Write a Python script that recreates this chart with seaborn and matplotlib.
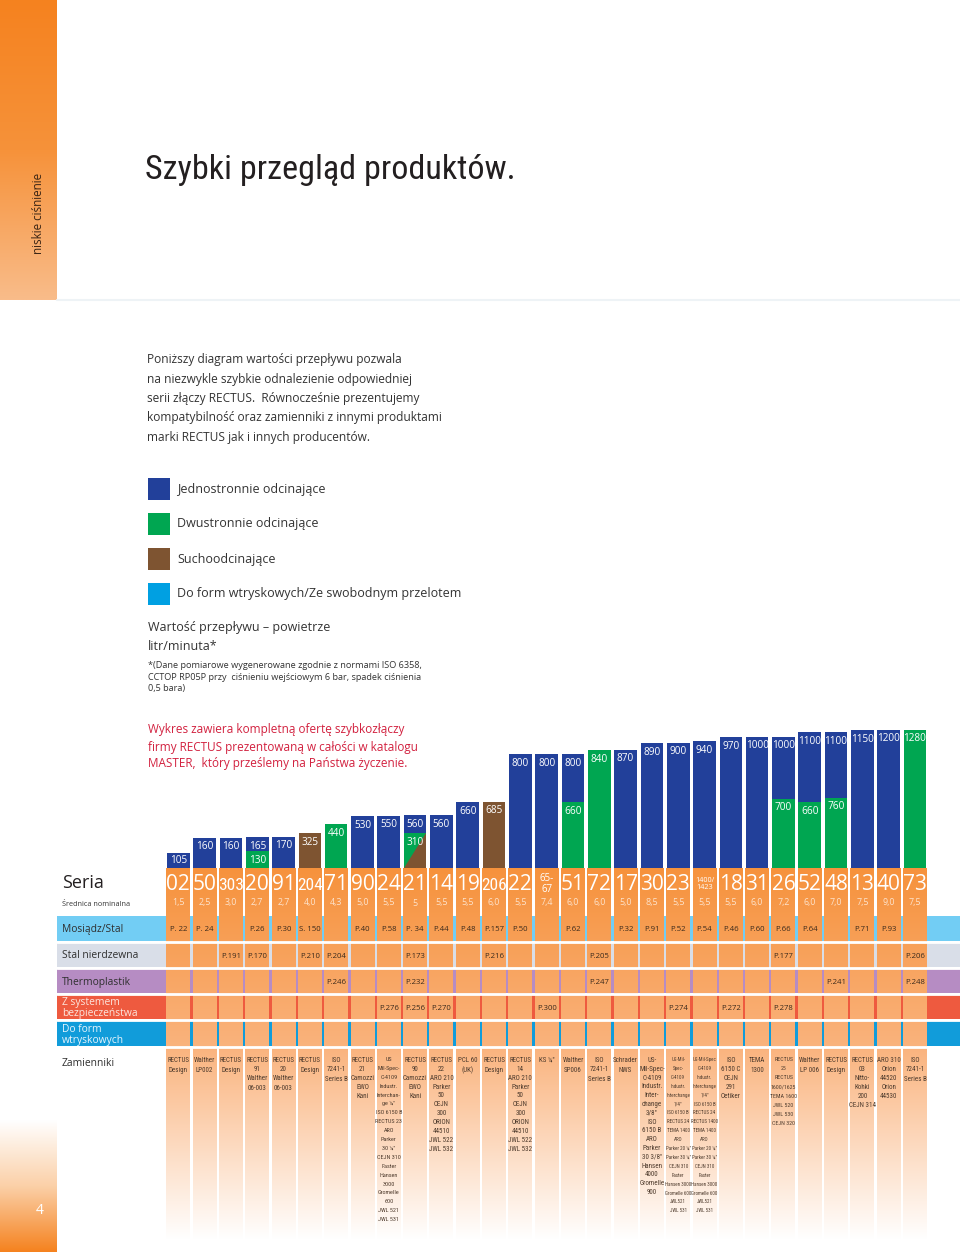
import numpy as np
import pandas as pd
import matplotlib
matplotlib.use('Agg')
import matplotlib.pyplot as plt
import seaborn as sns
from matplotlib import font_manager as fm
from matplotlib.colors import LinearSegmentedColormap
from matplotlib.patches import Rectangle, Polygon

# --- dane: serie złączy ---
serie = ['02', '50', '303', '20', '91', '204', '71', '90', '24', '21', '14', '19', '206', '22',
         '65-\n67', '51', '72', '17', '30', '23', '1400/\n1423', '18', '31', '26', '52', '48',
         '13', '40', '73']
srednice = ['1,5', '2,5', '3,0', '2,7', '2,7', '4,0', '4,3', '5,0', '5,5', '5', '5,5', '5,5', '6,0',
            '5,5', '7,4', '6,0', '6,0', '5,0', '8,5', '5,5', '5,5', '5,5', '6,0', '7,2', '6,0',
            '7,0', '7,5', '9,0', '7,5']

# wartość przepływu (litr/minuta) - słupek główny
przeplyw = [105, 160, 160, 165, 170, 325, 440, 530, 550, 560, 560, 660, 685, 800, 800, 800,
            840, 870, 890, 900, 940, 970, 1000, 1000, 1100, 1100, 1150, 1200, 1280]
typ = ['Jedno', 'Jedno', 'Jedno', 'Jedno', 'Jedno', 'Sucho', 'Dwu', 'Jedno', 'Jedno', 'Jedno',
       'Jedno', 'Jedno', 'Sucho', 'Jedno', 'Jedno', 'Jedno', 'Dwu', 'Jedno', 'Jedno', 'Jedno',
       'Jedno', 'Jedno', 'Jedno', 'Jedno', 'Jedno', 'Jedno', 'Jedno', 'Jedno', 'Dwu']

# druga wersja tej samej serii (dolna część słupka)
dolny_kol = [3, 9, 15, 23, 24, 25]
dolny_wart = [130, 310, 660, 700, 660, 760]
dolny_typ = ['Dwu', 'Sucho', 'Dwu', 'Dwu', 'Dwu', 'Dwu']

# numery stron w katalogu
mosiadz = ['P. 22', 'P. 24', '', 'P.26', 'P.30', 'S. 150', '', 'P.40', 'P.58', 'P. 34', 'P.44',
           'P.48', 'P.157', 'P.50', '', 'P.62', '', 'P.32', 'P.91', 'P.52', 'P.54', 'P.46', 'P.60',
           'P.66', 'P.64', '', 'P.71', 'P.93', '']
nierdzewna = ['', '', 'P.191', 'P.170', '', 'P.210', 'P.204', '', '', 'P.173', '', '', 'P.216',
              '', '', '', 'P.205', '', '', '', '', '', '', 'P.177', '', '', '', '', 'P.206']
termo = ['', '', '', '', '', '', 'P.246', '', '', 'P.232', '', '', '', '', '', '', 'P.247', '',
         '', '', '', '', '', '', '', 'P.241', '', '', 'P.248']
bezp = ['', '', '', '', '', '', '', '', 'P.276', 'P.256', 'P.270', '', '', '', 'P.300', '', '',
        '', '', 'P.274', '', 'P.272', '', 'P.278', '', '', '', '', '']

zamienniki = [
    'RECTUS\nDesign', 'Walther\nLP002', 'RECTUS\nDesign', 'RECTUS\n91\nWalther\n06-003',
    'RECTUS\n20\nWalther\n06-003', 'RECTUS\nDesign', 'ISO\n7241-1\nSeries B',
    'RECTUS\n21\nCamozzi\nEWO\nKani',
    'US\nMil-Spec-\nC-4109\nIndustr.\nInterchan-\nge ¼"\nISO 6150 B\nRECTUS 23\nARO\nParker\n30 ¼"\n'
    'CEJN 310\nFaster\nHansen\n3000\nGromelle\n600\nJWL 521\nJWL 531',
    'RECTUS\n90\nCamozzi\nEWO\nKani',
    'RECTUS\n22\nARO 210\nParker\n50\nCEJN\n300\nORION\n44510\nJWL 522\nJWL 532',
    'PCL 60\n(UK)', 'RECTUS\nDesign',
    'RECTUS\n14\nARO 210\nParker\n50\nCEJN\n300\nORION\n44510\nJWL 522\nJWL 532',
    'KS ¼"', 'Walther\nSP006', 'ISO\n7241-1\nSeries B', 'Schrader\nNWS',
    'US-\nMil-Spec-\nC-4109\nIndustr.\nInter-\nchange\n3/8"\nISO\n6150 B\nARO\nParker\n30 3/8"\n'
    'Hansen\n4000\nGromelle\n900',
    'US-Mil-\nSpec-\nC-4109\nIndustr.\nInterchange\n1/4"\nISO 6150 B\nRECTUS 24\nTEMA 1400\nARO\n'
    'Parker 20 ¼"\nParker 30 ¼"\nCEJN 310\nFaster\nHansen 3000\nGromelle 600\nJWL521\nJWL 531',
    'US-Mil-Spec\nC-4109\nIndustr.\nInterchange\n1/4"\nISO 6150 B\nRECTUS 24\nRECTUS 1400\n'
    'TEMA 1400\nARO\nParker 20 ¼"\nParker 30 ¼"\nCEJN 310\nFaster\nHansen 3000\nGromelle 600\n'
    'JWL521\nJWL 531',
    'ISO\n6150 C\nCEJN\n291\nOetiker', 'TEMA\n1300',
    'RECTUS\n25\nRECTUS\n1600/1625\nTEMA 1600\nJWL 520\nJWL 530\nCEJN 320',
    'Walther\nLP 006', 'RECTUS\nDesign', 'RECTUS\n03\nNitto-\nKohki\n200\nCEJN 314',
    'ARO 310\nOrion\n44520\nOrion\n44530', 'ISO\n7241-1\nSeries B']

kolory = {'Jedno': '#22409A', 'Dwu': '#00A651', 'Sucho': '#7E5431'}

# oś przepływu nie jest liniowa w oryginale - skala łamana
skala_wart = [0, 105, 130, 160, 170, 325, 440, 530, 560, 660, 685, 700, 760, 800, 840, 870,
              890, 900, 940, 970, 1000, 1100, 1150, 1200, 1280]
skala_px = [0, 15, 17, 30.5, 31.2, 35, 44, 52, 52.6, 66, 66.5, 69.5, 70.5, 114, 118, 118.5,
            125, 125.3, 127, 131, 131.3, 136, 138, 138.2, 138.5]


def fwd(v):
    return np.interp(v, skala_wart, skala_px)


def inv(p):
    return np.interp(p, skala_px, skala_wart)


sns.set_theme(style='white')
plt.rcParams['font.family'] = ['Open Sans', 'DejaVu Sans']

# wąska czcionka, jeśli jest
dostepne = {f.name for f in fm.fontManager.ttflist}
waski = {'family': ['Roboto', 'DejaVu Sans']}
for kand in ['Liberation Sans Narrow', 'DejaVu Sans Condensed', 'Roboto Condensed']:
    if kand in dostepne:
        waski = {'family': [kand, 'DejaVu Sans']}
        break
else:
    if any(f.name == 'DejaVu Sans' and f.stretch == 'condensed' for f in fm.fontManager.ttflist):
        waski = {'family': ['DejaVu Sans'], 'fontstretch': 'condensed'}

W, H = 960, 1252
fig = plt.figure(figsize=(W / 100, H / 100), dpi=100)

# --- strona ---
page = fig.add_axes([0, 0, 1, 1], zorder=0)
grad = np.linspace(0, 1, 256).reshape(-1, 1)
cm_top = LinearSegmentedColormap.from_list('t', ['#F5821F', '#F6923A', '#F9BC8A'])
cm_bot = LinearSegmentedColormap.from_list('b', ['#FFFFFF', '#FBD0A8', '#F5821F'])
page.imshow(grad, extent=(0, 57, 300, 0), cmap=cm_top, aspect='auto')
page.imshow(grad, extent=(0, 57, 1252, 1120), cmap=cm_bot, aspect='auto')
page.axhline(300, xmin=57 / W, color='#EEF3F6', lw=1.5)
page.set_xlim(0, W)
page.set_ylim(H, 0)
page.axis('off')

page.text(38, 213, 'niskie ciśnienie', rotation=90, ha='center', va='center',
          fontsize=8.4, color='#3A2414')
page.text(40, 1210, '4', ha='center', va='center', fontsize=10, color='white')

tytul = page.text(145, 170, 'Szybki przegląd produktów.', fontsize=27, va='center',
                  ha='left', color='#231F20', **waski)

intro = ['Poniższy diagram wartości przepływu pozwala',
         'na niezwykle szybkie odnalezienie odpowiedniej',
         'serii złączy RECTUS.  Równocześnie prezentujemy',
         'kompatybilność oraz zamienniki z innymi produktami',
         'marki RECTUS jak i innych producentów.']
for k, linia in enumerate(intro):
    page.text(147, 360 + k * 19.3, linia, fontsize=8.6, va='center', color='#333333')

legenda = ['Jednostronnie odcinające', 'Dwustronnie odcinające', 'Suchoodcinające',
           'Do form wtryskowych/Ze swobodnym przelotem']
legenda_kol = ['#22409A', '#00A651', '#7E5431', '#00A0E2']
for k, (txt, c) in enumerate(zip(legenda, legenda_kol)):
    y0 = 478 + k * 35
    page.add_patch(Rectangle((148, y0), 22, 22, color=c, lw=0))
    page.text(177, y0 + 11, txt, fontsize=9.0, va='center', color='#333333')

page.text(148, 628, 'Wartość przepływu – powietrze', fontsize=9.0, va='center', color='#333333')
page.text(148, 647, 'litr/minuta*', fontsize=9.0, va='center', color='#333333')
przypis = ['*(Dane pomiarowe wygenerowane zgodnie z normami ISO 6358,',
           'CCTOP RP05P przy  ciśnieniu wejściowym 6 bar, spadek ciśnienia',
           '0,5 bara)']
for k, linia in enumerate(przypis):
    page.text(148, 665 + k * 12, linia, fontsize=6.6, va='center', color='#333333')

czerwony = ['Wykres zawiera kompletną ofertę szybkozłączy',
            'firmy RECTUS prezentowaną w całości w katalogu',
            'MASTER,  który prześlemy na Państwa życzenie.']
for k, linia in enumerate(czerwony):
    page.text(148, 730 + k * 17, linia, fontsize=8.5, va='center', color='#D2213F')

# --- tabela pod wykresem ---
n = len(serie)
xmin, xmax = -4.61, 29.71
tab = fig.add_axes([57 / W, 0, 903 / W, (H - 868) / H], zorder=1)
tab.patch.set_alpha(0)

wiersze = ['Mosiądz/Stal', 'Stal nierdzewna', 'Thermoplastik', 'Z systemem\nbezpieczeństwa',
           'Do form\nwtryskowych']
wiersze_kol = ['#72CDF4', '#D9DEE8', '#B68CC3', '#EE5A3F', '#119CDA']
wiersze_txt = ['#2F2F2F', '#2F2F2F', '#2F2F2F', '#FCE6DE', '#E6F4FC']
wiersze_y = [(916, 941), (943, 967), (969, 993), (995, 1019), (1021, 1046)]
for (a, b), c in zip(wiersze_y, wiersze_kol):
    tab.axhspan(a, b, color=c, lw=0, zorder=1)

# etykiety wierszy (w układzie strony, nad pasami)
tab.text(62, 883, 'Seria', fontsize=13, va='center', color='#231F20',
         transform=page.transData, zorder=6)
tab.text(62, 904, 'Średnica nominalna', fontsize=5.2, va='center', color='#333333',
         transform=page.transData, zorder=6)
for nazwa, tc, (a, b) in zip(wiersze, wiersze_txt, wiersze_y):
    tab.text(62, (a + b) / 2 + 1, nazwa, fontsize=7.4, va='center', color=tc, linespacing=1.0,
             transform=page.transData, zorder=6)
tab.text(62, 1064, 'Zamienniki', fontsize=7.4, va='center', color='#2F2F2F',
         transform=page.transData, zorder=6)

cm_kol = LinearSegmentedColormap.from_list(
    'k', [(0, '#F6923C'), ((1047 - 868) / (1240 - 868), '#FAB37D'), (1, '#FFFFFF')])
for i in range(n):
    tab.imshow(grad, extent=(i - 0.455, i + 0.455, 1240, 868), cmap=cm_kol, aspect='auto',
               zorder=2, interpolation='bilinear')
for y in [942, 968, 994, 1020, 1047]:
    tab.axhline(y, color='white', lw=2, zorder=4)

teksty_zam = []
for i in range(n):
    s = serie[i]
    if '\n' in s:
        fs = 7 if len(s) < 7 else 5.2
        tab.text(i, 884, s, fontsize=fs, ha='center', va='center', color='white',
                 linespacing=0.9, zorder=5)
    elif len(s) == 2:
        tab.text(i, 885, s, fontsize=15, ha='center', va='center', color='white', zorder=5)
    else:
        tab.text(i, 885, s, fontsize=12.5, ha='center', va='center', color='white', zorder=5,
                 **waski)
    tab.text(i, 903, srednice[i], fontsize=6.4, ha='center', va='center', color='#FDE3CC',
             zorder=5)
    for lista, (a, b) in zip([mosiadz, nierdzewna, termo, bezp], wiersze_y):
        if lista[i]:
            tab.text(i, (a + b) / 2 + 1, lista[i], fontsize=5.6, ha='center', va='center',
                     color='#3B2A1C', zorder=5)
    t = tab.text(i, 1057, zamienniki[i], fontsize=5.0, ha='center', va='top', color='#4E3B2D',
                 linespacing=1.3, zorder=5, **waski)
    teksty_zam.append(t)

tab.set_xlim(xmin, xmax)
tab.set_ylim(H, 868)
tab.axis('off')

# --- wykres słupkowy ---
bar = fig.add_axes([57 / W, (H - 868) / H, 903 / W, 138.5 / H], zorder=2)
bar.patch.set_alpha(0)
df = pd.DataFrame({'kol': np.arange(n), 'przeplyw': przeplyw, 'typ': typ})
df_dol = pd.DataFrame({'kol': dolny_kol, 'przeplyw': dolny_wart, 'typ': dolny_typ})
sns.barplot(data=df, x='kol', y='przeplyw', hue='typ', palette=kolory, dodge=False,
            native_scale=True, width=0.86, saturation=1, errorbar=None, legend=False,
            linewidth=0, ax=bar)
sns.barplot(data=df_dol, x='kol', y='przeplyw', hue='typ', palette=kolory, dodge=False,
            native_scale=True, width=0.86, saturation=1, errorbar=None, legend=False,
            linewidth=0, ax=bar)

# seria 21: część dwustronna / suchoodcinająca dzielona po przekątnej
k21 = dolny_kol[1]
v21 = dolny_wart[1]
bar.add_patch(Polygon([(k21 - 0.43, 0), (k21 - 0.43, v21), (k21 + 0.43, v21)],
                      closed=True, color=kolory['Dwu'], lw=0, zorder=3))

bar.set_yscale('function', functions=(fwd, inv))
bar.set_ylim(0, 1280)
bar.set_xlim(xmin, xmax)
bar.axis('off')

for i, v in enumerate(przeplyw):
    bar.annotate(str(v), xy=(i, v), xytext=(0, -6.5 if v > 110 else -5.2),
                 textcoords='offset points', ha='center', va='center', fontsize=7.2,
                 color='white', zorder=5)
for k, v in zip(dolny_kol, dolny_wart):
    bar.annotate(str(v), xy=(k, v), xytext=(0, -6.5), textcoords='offset points',
                 ha='center', va='center', fontsize=7.2, color='white', zorder=5)

# dopasowanie: tytuł ok. 370 px szerokości, zamienniki w kolumnie, ok. 8.7 px na wiersz
fig.canvas.draw()
r = fig.canvas.get_renderer()
w = tytul.get_window_extent(r).width
tytul.set_fontsize(27 * 370 / w)
for t in teksty_zam:
    w = t.get_window_extent(r).width
    if w > 27:
        t.set_fontsize(5.0 * 27 / w)
odstep = [1.3] * n
for _ in range(3):
    fig.canvas.draw()
    r = fig.canvas.get_renderer()
    for i, t in enumerate(teksty_zam):
        nl = t.get_text().count('\n') + 1
        if nl < 2:
            continue
        h = t.get_window_extent(r).height
        odstep[i] = odstep[i] * (nl * 8.7) / h
        t.set_linespacing(odstep[i])

fig.savefig('out.png', dpi=100)
